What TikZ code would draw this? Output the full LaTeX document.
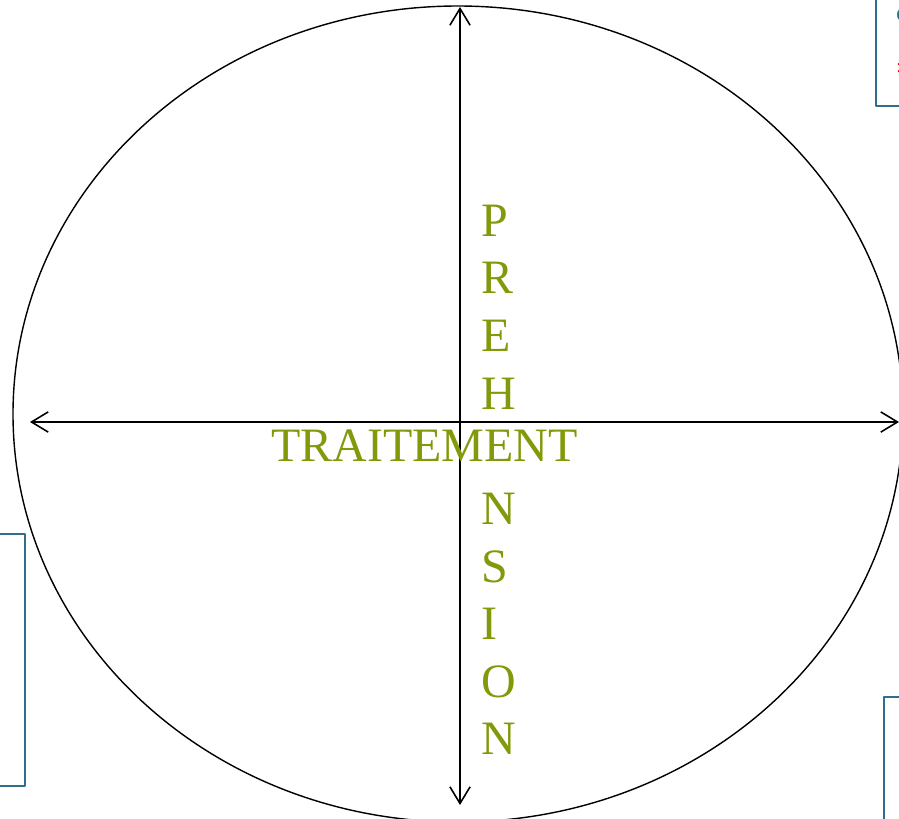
\documentclass[tikz,border=0pt]{standalone}
\usepackage{fontspec}
\setmainfont{Liberation Serif}
\usetikzlibrary{arrows.meta}
\definecolor{olive}{RGB}{128,154,10}
\definecolor{cadre}{RGB}{49,110,140}
\begin{document}
\begin{tikzpicture}[x=0.02cm,y=-0.02cm,line join=round,line cap=round,
	>={Straight Barb[length=9.5pt,width=11.5pt,line width=0.9pt]},
	axe/.style={<->,line width=0.9pt},
	boite/.style={draw=cadre,line width=1.1pt},
	mot/.style={text=olive,inner sep=0pt,font=\fontsize{27.3}{32.8}\selectfont}]
	\def \xmax{899}
	\def \ymax{818}
	\clip (0,0) rectangle (\xmax,\ymax);
	\fill[white] (0,0) rectangle (\xmax,\ymax);
	%cadres coupés
	\draw[boite] (876,-10) rectangle (930,106);
	\draw[boite] (-10,534) rectangle (25,786);
	\draw[boite] (884,697) rectangle (930,840);
	\node[anchor=base west,inner sep=0pt,text=cadre,font=\fontsize{11}{13}\selectfont] (c) at (896,21) {C};
	\node[anchor=base west,inner sep=0pt,text=red,font=\fontsize{11}{13}\selectfont] (dp) at (896,72) {:};
	%ellipse
	\draw[line width=0.8pt] (458,414) ellipse (445 and 408);
	\coordinate (haut) at (460,7);
	\coordinate (bas) at (460,805);
	\coordinate (gauche) at (30,422);
	\coordinate (droite) at (899,422);
	\draw[axe] (haut)--(bas);
	\draw[axe] (gauche)--(droite);
	%textes (le E commun est celui de TRAITEMENT)
	\node[mot,anchor=base west] (trait) at (271,461) {TRAITEMENT};
	\node[mot,anchor=north west,align=left] (preh) at (481,204.5)
	{P\\R\\E\\H\\\mbox{}\\N\\S\\I\\O\\N};
\end{tikzpicture}
\end{document}
